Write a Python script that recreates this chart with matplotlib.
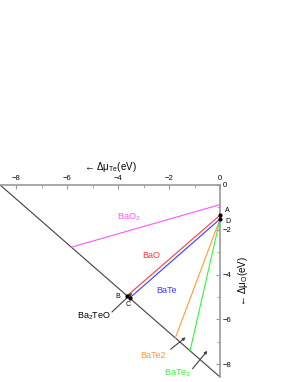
import numpy as np
import matplotlib
matplotlib.use('Agg')
import matplotlib.pyplot as plt
from matplotlib.ticker import MultipleLocator

plt.rcParams['font.family'] = ['Liberation Sans', 'DejaVu Sans']
plt.rcParams['mathtext.fontset'] = 'custom'
plt.rcParams['mathtext.rm'] = 'Liberation Sans'
plt.rcParams['mathtext.it'] = 'Liberation Sans'

# axis limits (Te, O) and the Ba limit on the diagonal
te_lim = -8.63
o_lim = -8.57

# phase-boundary lines: (Te, O) endpoints
bao2_te = [-5.84, 0.0]
bao2_o = [-2.78, -0.88]
bao_te = [0.0, -3.65]
bao_o = [-1.35, -4.95]
bate_te = [0.0, -3.55]
bate_o = [-1.52, -5.05]
bate2_te = [0.0, -1.76]
bate2_o = [-1.52, -6.84]
bate3_te = [0.0, -1.18]
bate3_o = [-1.52, -7.42]

# corner points
pt_names = ['A', 'D', 'B', 'C']
pt_te = [0.0, 0.0, -3.65, -3.55]
pt_o = [-1.35, -1.52, -4.95, -5.05]

# little arrows crossing the diagonal (start -> end)
mark_start = [(-4.24, -5.67), (-1.94, -7.33), (-1.08, -8.20)]
mark_end = [(-3.45, -4.82), (-1.35, -6.80), (-0.50, -7.40)]

c_mag = '#ff55ff'
c_red = '#ff3b3b'
c_blue = '#3b3bff'
c_orange = '#ff9a3c'
c_green = '#3cf03c'
c_dark = '#404040'

fig = plt.figure(figsize=(2.95, 3.82), dpi=100)
ax = fig.add_axes([0.0, 0.013, 0.746, 0.503])

ax.plot([te_lim, 0], [0, o_lim], color=c_dark, lw=0.8)
ax.plot(bao2_te, bao2_o, color=c_mag, lw=0.8)
ax.plot(bao_te, bao_o, color=c_red, lw=0.8)
ax.plot(bate_te, bate_o, color=c_blue, lw=0.8)
ax.plot(bate2_te, bate2_o, color=c_orange, lw=0.8)
ax.plot(bate3_te, bate3_o, color=c_green, lw=0.8)

ax.plot(pt_te, pt_o, 'o', color='black', ms=2.0, clip_on=False, zorder=5)

for s, e in zip(mark_start, mark_end):
    ax.annotate('', xy=e, xytext=s,
                arrowprops=dict(arrowstyle='-|>', color=c_dark, lw=0.8,
                                mutation_scale=4, shrinkA=0, shrinkB=0))

fs = 6.5
ax.text(-3.57, -1.43, 'BaO$_2$', color=c_mag, fontsize=fs, ha='center', va='center')
ax.text(-2.70, -3.13, 'BaO', color=c_red, fontsize=fs, ha='center', va='center')
ax.text(-2.12, -4.69, 'BaTe', color=c_blue, fontsize=fs, ha='center', va='center')
ax.text(-4.94, -5.85, 'Ba$_2$TeO', color='black', fontsize=fs, ha='center', va='center')
ax.text(-2.63, -7.59, 'BaTe2', color=c_orange, fontsize=fs, ha='center', va='center')
ax.text(-1.69, -8.39, 'BaTe$_3$', color=c_green, fontsize=fs, ha='center', va='center')

ax.text(0.2, -1.16, 'A', fontsize=5, ha='left', va='center')
ax.text(0.2, -1.62, 'D', fontsize=5, ha='left', va='center')
ax.text(-4.0, -4.96, 'B', fontsize=5, ha='center', va='center')
ax.text(-3.6, -5.33, 'C', fontsize=5, ha='center', va='center')

ax.set_xlim(te_lim, 0)
ax.set_ylim(o_lim, 0)

for side in ['left', 'bottom']:
    ax.spines[side].set_visible(False)
for side in ['top', 'right']:
    ax.spines[side].set_color('#999999')
    ax.spines[side].set_linewidth(1.2)

ax.xaxis.set_ticks_position('top')
ax.xaxis.set_label_position('top')
ax.yaxis.set_ticks_position('right')
ax.yaxis.set_label_position('right')
ax.set_xticks([-8, -6, -4, -2, 0])
ax.set_yticks([0, -2, -4, -6, -8])
ax.xaxis.set_minor_locator(MultipleLocator(1))
ax.yaxis.set_minor_locator(MultipleLocator(1))
ax.tick_params(which='both', direction='in', colors='#999999', labelcolor='black',
               labelsize=5.5, pad=2)
ax.tick_params(which='major', length=3, width=0.8)
ax.tick_params(which='minor', length=2, width=0.6)

ax.set_xlabel(r'← Δμ$_{\mathrm{Te}}$(eV)', fontsize=7, labelpad=4)
ax.set_ylabel(r'← Δμ$_{\mathrm{O}}$(eV)', fontsize=7, labelpad=3, rotation=90)

fig.savefig('out.png', dpi=100)
